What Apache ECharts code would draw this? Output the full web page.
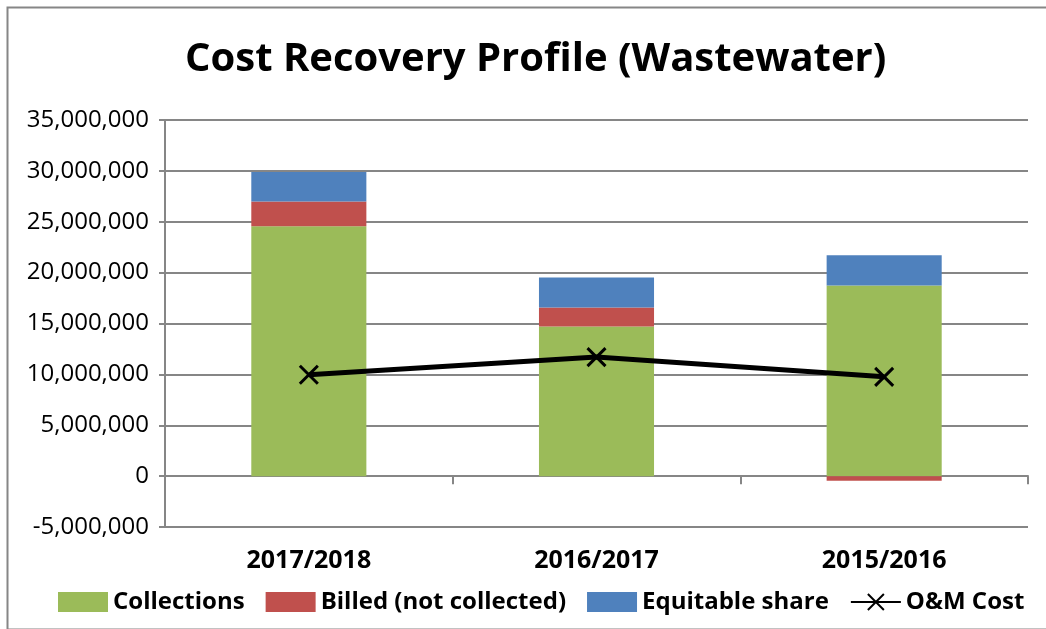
<!DOCTYPE html>
<html>
<head>
<meta charset="utf-8">
<script src="https://cdn.jsdelivr.net/npm/echarts@6/dist/echarts.min.js"></script>
<style>
  html, body { margin: 0; padding: 0; background: #fff; }
  #chart { width: 1046px; height: 629px; }
</style>
</head>
<body>
<div id="chart"></div>
<script>
// values
var years = ['2017/2018', '2016/2017', '2015/2016'];
var collections = [24550000, 14700000, 18740000];
var billedNotCollected = [2450000, 1870000, -450000];
var equitableShare = [2900000, 2960000, 2960000];
var omCost = [9960000, 11700000, 9760000];

var font = '"Open Sans", "Noto Sans", sans-serif';

var myChart = echarts.init(document.getElementById('chart'));

var option = {
    backgroundColor: '#fff',
    animation: false,
    title: {
        text: 'Cost Recovery Profile (Wastewater)',
        left: 180,
        top: 35,
        textStyle: { fontFamily: font, fontSize: 40, fontWeight: 'bold', color: '#000' }
    },
    legend: {
        bottom: 10,
        left: 53,
        itemWidth: 50,
        itemHeight: 20,
        itemGap: 21,
        textStyle: { fontFamily: font, fontSize: 24, fontWeight: 'bold', color: '#000' },
        data: [
            { name: 'Collections', icon: 'rect' },
            { name: 'Billed (not collected)', icon: 'rect' },
            { name: 'Equitable share', icon: 'rect' },
            { name: 'O&M Cost' }
        ]
    },
    grid: { left: 165, right: 18, top: 120, bottom: 102 },
    xAxis: [
        {
            type: 'category',
            data: years,
            axisLine: { onZero: true, lineStyle: { color: '#868686', width: 2 } },
            axisTick: { show: true, length: 8, lineStyle: { color: '#868686', width: 2 } },
            axisLabel: { show: false }
        },
        {
            type: 'category',
            data: years,
            position: 'bottom',
            axisLine: { show: false, onZero: false },
            axisTick: { show: false },
            axisLabel: { fontFamily: font, fontSize: 25, fontWeight: 'bold', color: '#000', margin: 21 }
        }
    ],
    yAxis: {
        type: 'value',
        min: -5000000,
        max: 35000000,
        interval: 5000000,
        axisLine: { show: true, lineStyle: { color: '#868686', width: 2 } },
        axisTick: { show: true, length: 6, lineStyle: { color: '#868686', width: 2 } },
        splitLine: { lineStyle: { color: '#868686', width: 2 } },
        axisLabel: {
            fontFamily: font, fontSize: 24, color: '#000', margin: 16,
            formatter: function (v) { return v.toLocaleString('en-US'); }
        }
    },
    series: [
        {
            name: 'Collections', type: 'bar', stack: 'total', barWidth: '40%',
            itemStyle: { color: '#9bbb59' }, data: collections
        },
        {
            name: 'Billed (not collected)', type: 'bar', stack: 'total', barWidth: '40%',
            itemStyle: { color: '#c0504d' }, data: billedNotCollected
        },
        {
            name: 'Equitable share', type: 'bar', stack: 'total', barWidth: '40%',
            itemStyle: { color: '#4f81bd' }, data: equitableShare
        },
        {
            name: 'O&M Cost', type: 'line', symbol: 'path://M0,0L10,10M10,0L0,10', symbolSize: 18,
            lineStyle: { color: '#000', width: 5 },
            itemStyle: { color: '#000', borderColor: '#000', borderWidth: 3 },
            data: omCost
        }
    ],
    graphic: [
        {
            type: 'rect', left: 5, top: 5, z: -1,
            shape: { width: 1040, height: 622 },
            style: { fill: 'none', stroke: '#868686', lineWidth: 2 }
        }
    ]
};

myChart.setOption(option);
</script>
</body>
</html>
